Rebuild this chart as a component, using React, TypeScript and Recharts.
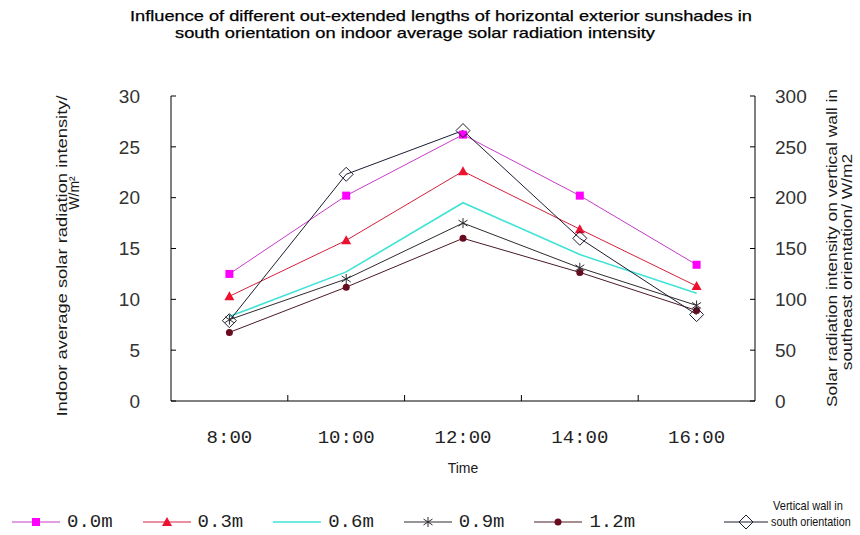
import React from 'react';
import { ComposedChart, Line, XAxis, YAxis } from 'recharts';

const times = ['8:00', '10:00', '12:00', '14:00', '16:00'];
const s00 = [12.5, 20.2, 26.2, 20.2, 13.4];
const s03 = [10.3, 15.8, 22.6, 16.9, 11.3];
const s06 = [8.3, 12.7, 19.5, 14.4, 10.6];
const s09 = [8.0, 12.0, 17.5, 13.1, 9.4];
const s12 = [6.75, 11.2, 16.0, 12.65, 8.9];
const wall = [79, 223, 266, 160, 85];

const leftTicks = [0, 5, 10, 15, 20, 25, 30];
const rightTicks = [0, 50, 100, 150, 200, 250, 300];

const seriesNames = ['0.0m', '0.3m', '0.6m', '0.9m', '1.2m', 'Vertical wall in|south orientation'];

const data = times.map((t, i) => ({
  time: t,
  s00: s00[i],
  s03: s03[i],
  s06: s06[i],
  s09: s09[i],
  s12: s12[i],
  wall: wall[i],
}));

const C = {
  s00line: '#C83CC8',
  s00mark: '#FF00FF',
  s03line: '#D4203C',
  s03mark: '#EE1030',
  s06: '#3FE3D6',
  s09: '#2E2A30',
  s12line: '#4A1A26',
  s12mark: '#6A0A1E',
  wall: '#1C1C30',
};

const MonoFont = '"Liberation Mono", "DejaVu Sans Mono", monospace';
const SansFont = '"Liberation Sans", Arial, sans-serif';
const X_TICK_GAP = 29;

function markerShape(kind: string, cx: number, cy: number, key?: any) {
  switch (kind) {
    case 'square':
      return <rect key={key} x={cx - 4} y={cy - 4} width={8} height={8} fill={C.s00mark} />;
    case 'triangle':
      return <polygon key={key} points={`${cx},${cy - 5} ${cx + 5},${cy + 4} ${cx - 5},${cy + 4}`} fill={C.s03mark} />;
    case 'star':
      return (
        <g key={key} stroke={C.s09} strokeWidth={1}>
          <line x1={cx} y1={cy - 5} x2={cx} y2={cy + 5} />
          <line x1={cx - 4.5} y1={cy - 3} x2={cx + 4.5} y2={cy + 3} />
          <line x1={cx - 4.5} y1={cy + 3} x2={cx + 4.5} y2={cy - 3} />
        </g>
      );
    case 'dot':
      return <circle key={key} cx={cx} cy={cy} r={3.5} fill={C.s12mark} />;
    case 'diamond':
      return (
        <polygon
          key={key}
          points={`${cx},${cy - 7} ${cx + 7},${cy} ${cx},${cy + 7} ${cx - 7},${cy}`}
          fill="none"
          stroke={C.wall}
          strokeWidth={1}
        />
      );
    default:
      return <g key={key} />;
  }
}

const dotFor = (kind: string) => (p: any) => {
  if (p.cx == null || p.cy == null) return <g key={p.index} />;
  return markerShape(kind, p.cx, p.cy, p.index);
};

// Category tick: label at band centre, small inward tick mark at the band's right boundary
const TimeTick = (props: any) => {
  const { x, y, payload, width, visibleTicksCount } = props;
  const count = visibleTicksCount || times.length;
  const half = payload && typeof payload.offset === 'number' && payload.offset > 0 ? payload.offset : width / count / 2;
  const axisY = y - X_TICK_GAP;
  const isLast = payload && payload.index === count - 1;
  return (
    <g>
      {!isLast && <line x1={x + half} y1={axisY} x2={x + half} y2={axisY - 6} stroke="#000" strokeWidth={1} />}
      <text x={x} y={y} dy="0.71em" textAnchor="middle" fontFamily={MonoFont} fontSize={19} fill="#222">
        {payload ? payload.value : ''}
      </text>
    </g>
  );
};

const legendKinds = ['square', 'triangle', 'none', 'star', 'dot', 'diamond'];
const legendLineColors = [C.s00line, C.s03line, C.s06, C.s09, C.s12line, C.wall];

function LegendIcon({ kind, color, width }: { kind: string; color: string; width: number }) {
  return (
    <svg width={width} height={20} style={{ display: 'block', overflow: 'visible' }}>
      <line x1={0} y1={10} x2={width} y2={10} stroke={color} strokeWidth={kind === 'none' ? 1.5 : 1} />
      {markerShape(kind, width / 2, 10)}
    </svg>
  );
}

export default function App() {
  return (
    <div style={{ position: 'absolute', left: 0, top: 0, width: 860, height: 535, background: '#fff', overflow: 'hidden' }}>
      <ComposedChart width={860} height={535} data={data} margin={{ top: 96, right: 0, bottom: 0, left: 0 }}>
        <XAxis
          xAxisId="cat"
          dataKey="time"
          type="category"
          scale="band"
          height={134}
          axisLine={{ stroke: '#000', strokeWidth: 1 }}
          tickLine={false}
          tickSize={0}
          tickMargin={X_TICK_GAP}
          tick={TimeTick}
          interval={0}
        />
        <YAxis
          yAxisId="left"
          domain={[0, 30]}
          ticks={leftTicks}
          width={171}
          axisLine={{ stroke: '#000', strokeWidth: 1 }}
          tickLine={{ stroke: '#000' }}
          tickSize={-5}
          tickMargin={36}
          tick={{ fontFamily: SansFont, fontSize: 19, fill: '#333' }}
          interval={0}
        />
        <YAxis
          yAxisId="right"
          orientation="right"
          domain={[0, 300]}
          ticks={rightTicks}
          width={105}
          axisLine={{ stroke: '#000', strokeWidth: 1 }}
          tickLine={{ stroke: '#000' }}
          tickSize={-5}
          tickMargin={25}
          tick={{ fontFamily: SansFont, fontSize: 19, fill: '#333' }}
          interval={0}
        />
        <Line xAxisId="cat" yAxisId="left" dataKey="s06" name={seriesNames[2]} stroke={C.s06} strokeWidth={1.6} dot={false} activeDot={false} isAnimationActive={false} />
        <Line xAxisId="cat" yAxisId="left" dataKey="s12" name={seriesNames[4]} stroke={C.s12line} strokeWidth={1} dot={dotFor('dot')} activeDot={false} isAnimationActive={false} />
        <Line xAxisId="cat" yAxisId="left" dataKey="s09" name={seriesNames[3]} stroke={C.s09} strokeWidth={1} dot={dotFor('star')} activeDot={false} isAnimationActive={false} />
        <Line xAxisId="cat" yAxisId="left" dataKey="s03" name={seriesNames[1]} stroke={C.s03line} strokeWidth={1} dot={dotFor('triangle')} activeDot={false} isAnimationActive={false} />
        <Line xAxisId="cat" yAxisId="left" dataKey="s00" name={seriesNames[0]} stroke={C.s00line} strokeWidth={1} dot={dotFor('square')} activeDot={false} isAnimationActive={false} />
        <Line xAxisId="cat" yAxisId="right" dataKey="wall" name={seriesNames[5]} stroke={C.wall} strokeWidth={1} dot={dotFor('diamond')} activeDot={false} isAnimationActive={false} />
      </ComposedChart>

      <svg width={860} height={535} style={{ position: 'absolute', left: 0, top: 0, pointerEvents: 'none' }}>
        <g fontFamily={SansFont} fontSize={15} fill="#000" stroke="#000" strokeWidth={0.25} textAnchor="middle">
          <text x={441} y={21} textLength={622} lengthAdjust="spacingAndGlyphs">
            Influence of different out-extended lengths of horizontal exterior sunshades in
          </text>
          <text x={415} y={38} textLength={480} lengthAdjust="spacingAndGlyphs">
            south orientation on indoor average solar radiation intensity
          </text>
        </g>
        <g fontFamily={SansFont} fill="#1a1a1a" textAnchor="middle">
          <text transform="translate(67,256) rotate(-90) scale(1.2,1)" fontSize={15.3}>
            Indoor average solar radiation intensity/
          </text>
          <text transform="translate(79,193) rotate(-90)" fontSize={14}>W/m²</text>
          <text transform="translate(837,248) rotate(-90) scale(1.16,1)" fontSize={15}>
            Solar radiation intensity on vertical wall in
          </text>
          <text transform="translate(852,262) rotate(-90) scale(1.16,1)" fontSize={15}>
            southeast orientation/ W/m2
          </text>
          <text x={463} y={473} fontSize={14}>Time</text>
        </g>
      </svg>

      <div
        style={{
          position: 'absolute',
          left: 12,
          top: 510,
          width: 848,
          display: 'flex',
          alignItems: 'center',
          height: 24,
          whiteSpace: 'nowrap',
        }}
      >
        {seriesNames.map((name, i) => {
          const last = i === seriesNames.length - 1;
          const parts = name.split('|');
          return (
            <div
              key={name}
              style={{
                display: 'flex',
                alignItems: 'center',
                flexShrink: 0,
                marginLeft: i === 0 ? 0 : last ? 89 : 30,
              }}
            >
              <LegendIcon kind={legendKinds[i]} color={legendLineColors[i]} width={last ? 44 : 48} />
              {last ? (
                <svg width={82} height={34} style={{ display: 'block', marginLeft: 3, marginTop: -12, overflow: 'visible' }}>
                  <g fontFamily={SansFont} fontSize={13} fill="#111">
                    <text transform="translate(2,11) scale(0.85,1)">{parts[0]}</text>
                    <text transform="translate(0,27) scale(0.83,1)">{parts[1]}</text>
                  </g>
                </svg>
              ) : (
                <span style={{ marginLeft: 7, fontFamily: MonoFont, fontSize: 19, color: '#222', lineHeight: '20px' }}>{name}</span>
              )}
            </div>
          );
        })}
      </div>
    </div>
  );
}
